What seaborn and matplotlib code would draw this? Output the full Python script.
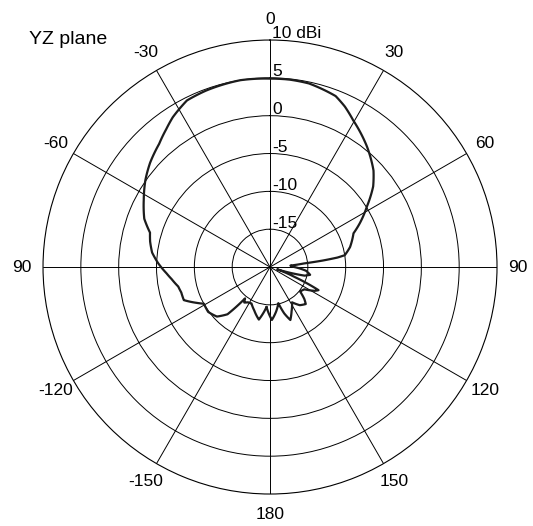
import numpy as np
import pandas as pd
import matplotlib
matplotlib.use("Agg")
import matplotlib.pyplot as plt
import matplotlib.transforms as mtransforms
import seaborn as sns

# Measured YZ-plane radiation pattern (azimuth in degrees, gain in dBi)
angle_deg = [-175, -168, -160, -153, -148, -144, -141.5, -140, -138, -133,
             -126, -119, -116, -111, -106, -102, -97, -93.5, -88, -83,
             -78, -74, -69, -62, -55, -49, -42, -37, -33, -26.5,
             -20, -9, 0, 6, 12, 21, 25, 29.5, 34, 39,
             47, 52, 58, 64, 68, 72, 76, 81, 82, 83,
             84, 86, 90, 96, 101, 104, 108, 112, 115.5, 118,
             123, 129, 133, 136, 142, 148, 154, 159, 163, 167,
             172, 178]
gain_dbi = [-14.7, -12.9, -13.9, -14.6, -14.5, -14.2, -14.7, -13.4, -11.6, -10.4,
            -9.9, -10.0, -9.2, -7.8, -7.8, -7.6, -6.9, -6.3, -5.2, -4.3,
            -3.8, -3.5, -2.2, -1.1, 0.1, 1.0, 1.9, 2.8, 3.6, 4.6,
            4.8, 5.0, 4.9, 4.9, 4.8, 4.2, 3.4, 2.3, 1.4, 0.4,
            -1.3, -2.7, -4.9, -6.8, -8.1, -8.6, -9.1, -10.0, -11.0, -13.0,
            -15.5, -17.3, -16.8, -15.2, -14.6, -15.3, -19.0, -16.5, -12.9, -13.3,
            -14.6, -14.9, -13.8, -13.2, -13.6, -14.5, -13.5, -12.5, -13.6, -15.1,
            -14.1, -13.0]

theta_ticks = [0, 30, 60, 90, 120, 150, 180, 210, 240, 270, 300, 330]
theta_labels = ["0", "30", "60", "90", "120", "150", "180",
                "-150", "-120", "90", "-60", "-30"]
ring_values = [-15, -10, -5, 0, 5, 10]
ring_labels = ["-15", "-10", "-5", "0", "5", "10 dBi"]
r_min, r_max = -20, 10

sns.set_theme(style="white")
plt.rcParams["font.family"] = ["Liberation Sans", "DejaVu Sans"]

# Close the pattern by repeating the first sample one turn later
df = pd.DataFrame({"angle": angle_deg + [angle_deg[0] + 360],
                   "gain": gain_dbi + [gain_dbi[0]]})
df["theta"] = np.deg2rad(df["angle"])

fig = plt.figure(figsize=(5.33, 5.26), dpi=100)
ax = fig.add_axes([0.0807, 0.0608, 0.8518, 0.8631], projection="polar")
ax.set_theta_zero_location("N")
ax.set_theta_direction(-1)
ax.set_ylim(r_min, r_max)

sns.lineplot(data=df, x="theta", y="gain", sort=False, estimator=None,
             color="#1c1c1c", linewidth=1.6, ax=ax)
# draw each segment as a polar spiral rather than a straight chord
for line in ax.lines:
    line.get_path()._interpolation_steps = 12
ax.set_xlabel("")
ax.set_ylabel("")

ax.set_xticks(np.deg2rad(theta_ticks))
ax.set_xticklabels(theta_labels, fontsize=12.5, color="black")
ax.tick_params(axis="x", pad=2)
ax.set_yticks(ring_values[:-1])
ax.set_yticklabels([])
ax.grid(True, color="black", linewidth=0.7)
ax.spines["polar"].set_color("black")
ax.spines["polar"].set_linewidth(0.8)

# Ring values written just right of the 0-degree spoke
offset = mtransforms.offset_copy(ax.transData, fig=fig, x=1.5, y=-1, units="points")
for val, lab in zip(ring_values, ring_labels):
    ax.text(0, val, lab, transform=offset, ha="left", va="bottom",
            fontsize=12.5, color="black")

fig.text(29 / 533, 1 - 44 / 526, "YZ plane", ha="left", va="baseline",
         fontsize=14, color="black")

fig.savefig("out.png", dpi=100)
